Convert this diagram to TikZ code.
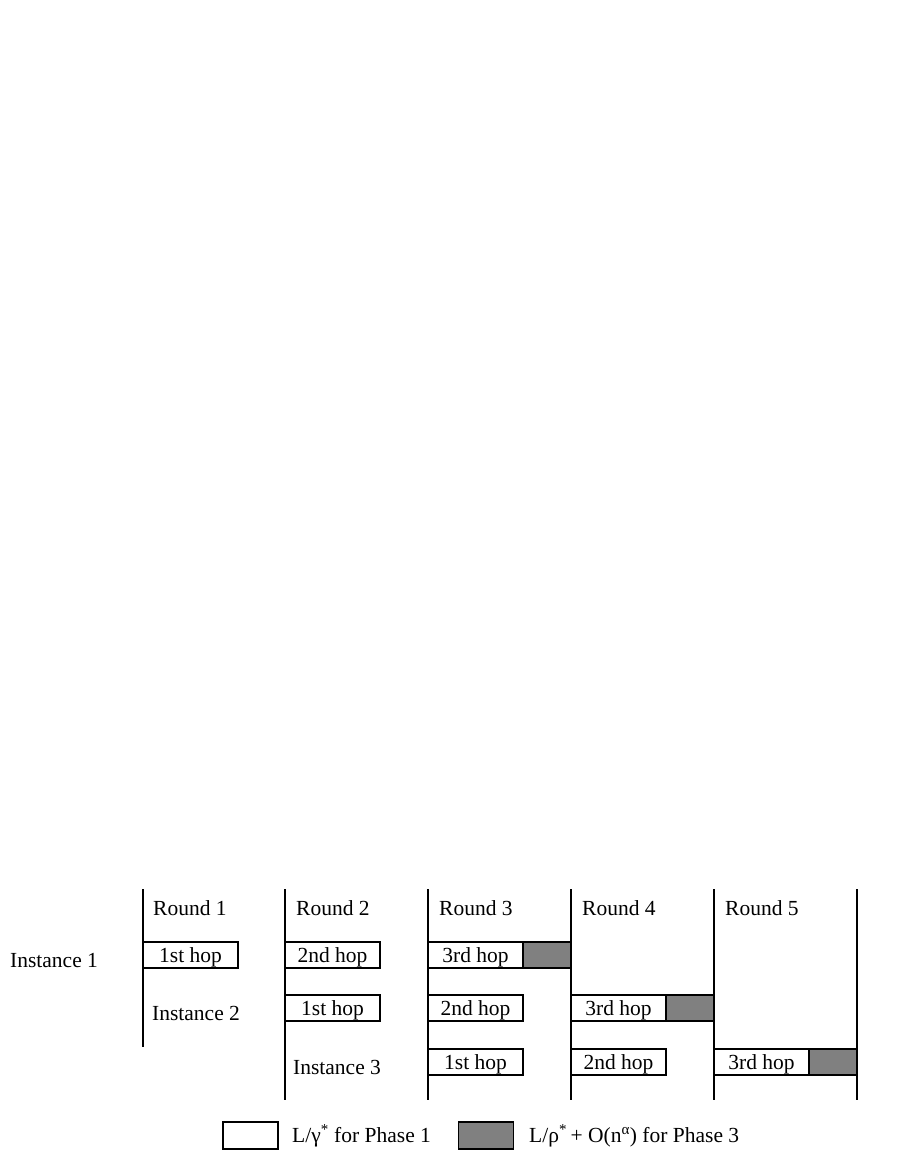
\documentclass[tikz,border=0pt]{standalone}
\usepackage{fontspec}
\setmainfont{Liberation Serif}
\begin{document}
\begin{tikzpicture}[x=1pt,y=-1pt,
  font=\fontsize{21.5}{25}\selectfont,
  vline/.style={line width=2pt},
  hopbox/.style={draw, line width=1.8pt, fill=white, minimum width=95pt, minimum height=26pt, inner sep=0pt, outer sep=0pt, text height=18.5pt, text depth=4pt, anchor=west},
  phasebox/.style={draw, line width=1.8pt, fill=gray, minimum width=48pt, minimum height=26pt, inner sep=0pt, outer sep=0pt, anchor=west},
  keybox/.style={draw, line width=1.8pt, minimum width=55pt, minimum height=27pt, inner sep=0pt},
  lbl/.style={anchor=base west, inner sep=0pt}]
\useasboundingbox (0,0) rectangle (900,1164);

% hop boxes
\node[hopbox] (r1a) at (143,955) {1st hop};
\node[hopbox] (r2a) at (285,955) {2nd hop};
\node[hopbox] (r2b) at (285,1008) {1st hop};
\node[hopbox] (r3a) at (428,955) {3rd hop};
\node[phasebox] (g3a) at (r3a.east) {};
\node[hopbox] (r3b) at (428,1008) {2nd hop};
\node[hopbox] (r3c) at (428,1062) {1st hop};
\node[hopbox] (r4b) at (571,1008) {3rd hop};
\node[phasebox] (g4b) at (r4b.east) {};
\node[hopbox] (r4c) at (571,1062) {2nd hop};
\node[hopbox] (r5c) at (714,1062) {3rd hop};
\node[phasebox] (g5c) at (r5c.east) {};

% round separators
\coordinate (t1) at (143,889); \coordinate (b1) at (143,1047);
\coordinate (t2) at (285,889); \coordinate (b2) at (285,1100);
\coordinate (t3) at (428,889); \coordinate (b3) at (428,1100);
\coordinate (t4) at (571,889); \coordinate (b4) at (571,1100);
\coordinate (t5) at (714,889); \coordinate (b5) at (714,1100);
\coordinate (t6) at (857,889); \coordinate (b6) at (857,1100);
\foreach \i in {1,...,6} \draw[vline] (t\i) -- (b\i);

% labels
\node[lbl] (rd1) at (153,915) {Round 1};
\node[lbl] (rd2) at (296,915) {Round 2};
\node[lbl] (rd3) at (439,915) {Round 3};
\node[lbl] (rd4) at (582,915) {Round 4};
\node[lbl] (rd5) at (725,915) {Round 5};
\node[lbl] (in1) at (10,967) {Instance 1};
\node[lbl] (in2) at (152,1020) {Instance 2};
\node[lbl] (in3) at (293,1074) {Instance 3};

% legend
\node[keybox, fill=white] (k1) at (250.5,1135.5) {};
\node[lbl] (k1t) at (292,1142) {L/γ\textsuperscript{*} for Phase 1};
\node[keybox, fill=gray] (k2) at (486,1135.5) {};
\node[lbl] (k2t) at (529,1142) {L/ρ\textsuperscript{*}\,+ O(n\textsuperscript{α}) for Phase 3};
\end{tikzpicture}
\end{document}
